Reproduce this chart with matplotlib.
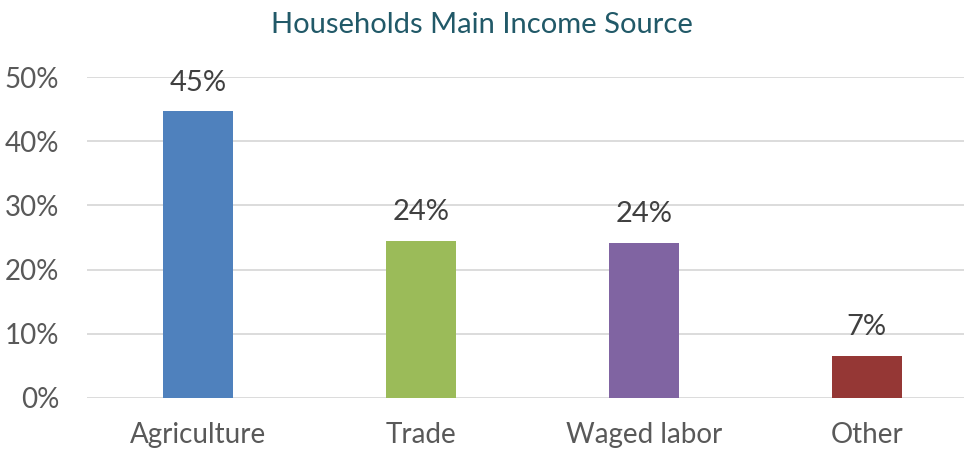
import matplotlib
matplotlib.use('Agg')
import matplotlib.pyplot as plt
import numpy as np

plt.rcParams['font.family'] = ['Lato', 'DejaVu Sans']

categories = ['Agriculture', 'Trade', 'Waged labor', 'Other']
values = [44.7, 24.5, 24.2, 6.6]
labels = ['45%', '24%', '24%', '7%']
colors = ['#4F81BD', '#9BBB59', '#8064A2', '#953735']

fig = plt.figure(figsize=(9.64, 4.5), dpi=100, facecolor='white')
ax = fig.add_axes([87 / 964, 52 / 450, 891 / 964, 321 / 450])

x = np.arange(len(categories))
ax.bar(x, values, width=0.314, color=colors, zorder=3)

for xi, v, lab in zip(x, values, labels):
    ax.text(xi, v + 2.4, lab, ha='center', va='bottom', fontsize=21, color='#404040')

ax.set_xlim(-0.5, 3.5)
ax.set_ylim(0, 50)
ax.set_yticks(np.arange(0, 51, 10))
ax.set_yticklabels([f'{t}%' for t in range(0, 51, 10)])
ax.set_xticks(x)
ax.set_xticklabels(categories)
ax.tick_params(axis='both', length=0, labelsize=20, colors='#595959')
ax.tick_params(axis='x', pad=17.5)
ax.tick_params(axis='y', pad=20)

ax.grid(axis='y', color='#D9D9D9', linewidth=1.3, zorder=0)
for s in ax.spines.values():
    s.set_visible(False)

fig.text(0.5, 0.945, 'Households Main Income Source', ha='center', va='center',
         fontsize=21, color='#215968')

fig.savefig('out.png', dpi=100, facecolor='white')
